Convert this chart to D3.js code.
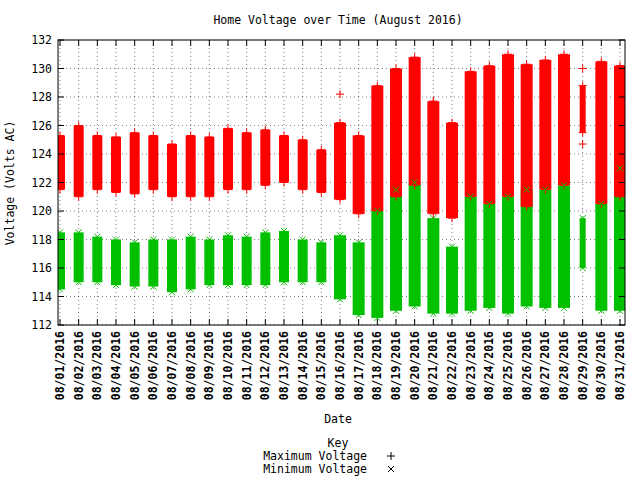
<!DOCTYPE html><html><head><meta charset="utf-8">
<script src="https://d3js.org/d3.v7.min.js"></script>
<style>body{margin:0;background:#fff}text{font-family:"DejaVu Sans Mono",monospace;font-size:11.5px}</style>
</head><body><svg width="640" height="480"></svg><script>
const days=d3.range(1,32).map(d=>"08/"+String(d).padStart(2,"0")+"/2016");
const maxLow =[121.5,121,121.5,121.3,121.2,121.5,121,121,121,121.5,121.5,121.8,122,121.5,121.3,120.8,119.8,120,121,121.8,119.8,119.5,121,120.5,121,120.3,121.5,121.8,125.5,120.5,121];
const maxHigh=[125.3,126,125.3,125.2,125.5,125.3,124.7,125.3,125.2,125.8,125.5,125.7,125.3,125,124.3,126.2,125.3,128.8,130,130.8,127.7,126.2,129.8,130.2,131,130.3,130.6,131,128.8,130.5,130.2];
const minLow =[114.5,115,115,114.8,114.7,114.7,114.3,114.5,114.8,114.8,114.8,114.8,115,115,115,113.8,112.7,112.5,113,113.3,112.8,112.8,113,113.2,112.8,113.3,113.2,113.2,116,113,113];
const minHigh=[118.5,118.5,118.2,118,117.8,118,118,118.2,118,118.3,118.2,118.5,118.6,118,117.8,118.3,117.8,120,121.5,122,119.5,117.5,121,120.5,121,121.5,121.5,121.8,119.5,120.5,123];
const maxOutliers=[["08/16/2016",128.2],["08/21/2016",127.7],["08/29/2016",130],["08/29/2016",124.7]];
const yTicks=d3.range(112,133,2);
const svg=d3.select("svg");
const L=58,R=625,T=40,B=325;
const x=d3.scalePoint().domain(days).range([60,620]);
const y=d3.scaleLinear().domain([112,132]).range([B,T]);
const g=svg.append("g");
yTicks.forEach(v=>g.append("line").attr("x1",L).attr("x2",R).attr("y1",y(v)).attr("y2",y(v)).attr("stroke","#000").attr("stroke-width",0.5).attr("stroke-dasharray","1,3"));
days.forEach(d=>g.append("line").attr("x1",x(d)).attr("x2",x(d)).attr("y1",T).attr("y2",B).attr("stroke","#000").attr("stroke-width",0.5).attr("stroke-dasharray","1,3"));
svg.append("clipPath").attr("id","c").append("rect").attr("x",L).attr("y",T).attr("width",R-L).attr("height",B-T);
const pg=svg.append("g").attr("clip-path","url(#c)");
const w=i=>i==28?6:(i<15?10:12);
const plus=(xx,yy,c)=>pg.append("path").attr("d",`M${xx-4},${yy}h8M${xx},${yy-4}v8`).attr("stroke",c);
const cross=(xx,yy,c)=>pg.append("path").attr("d",`M${xx-3},${yy-3}l6,6M${xx-3},${yy+3}l6,-6`).attr("stroke",c);
days.forEach((d,i)=>{
  pg.append("rect").attr("x",x(d)-w(i)/2).attr("width",w(i)).attr("y",y(minHigh[i])).attr("height",y(minLow[i])-y(minHigh[i])).attr("fill","#00c000");
  pg.append("rect").attr("x",x(d)-w(i)/2).attr("width",w(i)).attr("y",y(maxHigh[i])).attr("height",y(maxLow[i])-y(maxHigh[i])).attr("fill","#ff0000");
  [maxLow[i],maxHigh[i]].forEach(v=>plus(x(d),y(v),"#ff0000"));
  [minLow[i],minHigh[i]].forEach(v=>cross(x(d),y(v),"#00c000"));
});
maxOutliers.forEach(([d,v])=>plus(x(d),y(v),"#ff0000"));
svg.append("rect").attr("x",L).attr("y",T).attr("width",R-L).attr("height",B-T).attr("fill","none").attr("stroke","#000");
yTicks.forEach(v=>{svg.append("path").attr("d",`M${L},${y(v)}h6M${R},${y(v)}h-6`).attr("stroke","#000");
 svg.append("text").attr("x",L-6).attr("y",y(v)+4).attr("text-anchor","end").text(v);});
days.forEach(d=>{svg.append("path").attr("d",`M${x(d)},${B}v-6M${x(d)},${T}v6`).attr("stroke","#000");
 svg.append("text").attr("transform",`translate(${x(d)+4},${B+6}) rotate(-90)`).attr("text-anchor","end").attr("font-weight","bold").text(d);});
svg.append("text").attr("x",338).attr("y",24).attr("text-anchor","middle").text("Home Voltage over Time (August 2016)");
svg.append("text").attr("transform","translate(14,183) rotate(-90)").attr("text-anchor","middle").text("Voltage (Volts AC)");
svg.append("text").attr("x",338).attr("y",423).attr("text-anchor","middle").text("Date");
svg.append("text").attr("x",338).attr("y",447).attr("text-anchor","middle").text("Key");
svg.append("text").attr("x",367).attr("y",460).attr("text-anchor","end").text("Maximum Voltage");
svg.append("text").attr("x",367).attr("y",473).attr("text-anchor","end").text("Minimum Voltage");
svg.append("path").attr("d","M387,456h8M391,452v8").attr("stroke","#000");
svg.append("path").attr("d","M388,466l6,6M388,472l6,-6").attr("stroke","#000");
</script></body></html>
